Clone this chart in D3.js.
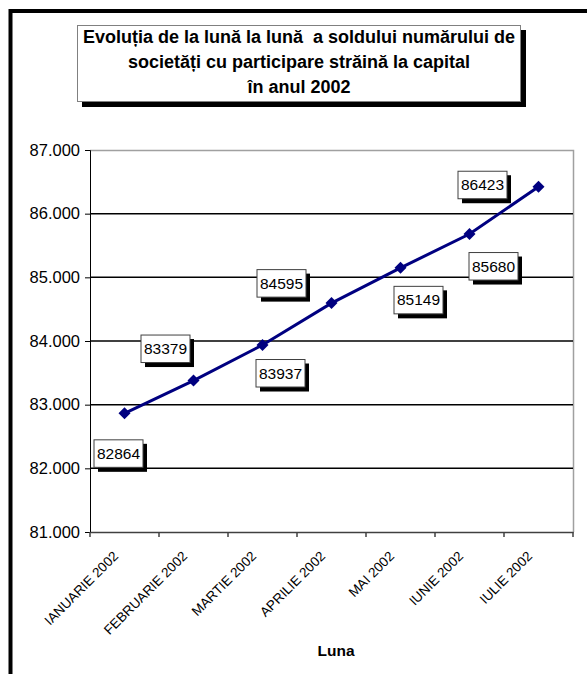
<!DOCTYPE html>
<html>
<head>
<meta charset="utf-8">
<title>Evoluția soldului numărului de societăți 2002</title>
<script src="https://cdn.jsdelivr.net/npm/d3@7"></script>
<style>
  body { margin: 0; background: #fff; }
  text { font-family: Arial, "Liberation Sans", sans-serif; }
</style>
</head>
<body>
<script>
  // data
  var months = ["IANUARIE 2002", "FEBRUARIE 2002", "MARTIE 2002", "APRILIE 2002",
                "MAI 2002", "IUNIE 2002", "IULIE 2002"];
  var values = [82864, 83379, 83937, 84595, 85149, 85680, 86423];
  var yTicks = [81000, 82000, 83000, 84000, 85000, 86000, 87000];
  var titleLines = ["Evoluția de la lună la lună  a soldului numărului de",
                    "societăți cu participare străină la capital",
                    "în anul 2002"];

  // label box offsets from each point (hand placed, like the original)
  var labelOffsets = [[-6, 40], [-28, -32], [18, 28], [-50, -20], [18, 32], [24, 32], [-56, -2]];

  var width = 587, height = 674;
  var plot = {left: 90, top: 150, right: 573, bottom: 532};

  var svg = d3.select("body").append("svg")
    .attr("width", width)
    .attr("height", height);

  // outer frame (runs off the right and bottom)
  svg.append("rect")
    .attr("x", 10.5).attr("y", 11)
    .attr("width", 620).attr("height", 700)
    .attr("fill", "#fff")
    .attr("stroke", "#000")
    .attr("stroke-width", 4);

  // title box with shadow
  svg.append("rect")
    .attr("x", 82).attr("y", 30).attr("width", 444).attr("height", 77)
    .attr("fill", "#000");
  svg.append("rect")
    .attr("x", 77.5).attr("y", 25.5).attr("width", 443).attr("height", 76)
    .attr("fill", "#fff").attr("stroke", "#808080").attr("stroke-width", 1);
  svg.append("g").selectAll("text")
    .data(titleLines)
    .enter().append("text")
    .attr("x", 299)
    .attr("y", function(d, i) { return 43 + i * 25; })
    .attr("text-anchor", "middle")
    .attr("font-weight", "bold")
    .attr("font-size", "18px")
    .attr("fill", "#000")
    .style("white-space", "pre")
    .text(function(d) { return d; });

  var x = d3.scaleBand().domain(months).range([plot.left, plot.right]);
  var y = d3.scaleLinear().domain([81000, 87000]).range([plot.bottom, plot.top]);

  // plot area border (grey top + right)
  svg.append("path")
    .attr("d", "M" + plot.left + "," + (plot.top + 0.5) + "H" + (plot.right + 0.5) + "V" + plot.bottom)
    .attr("fill", "none")
    .attr("stroke", "#a0a0a0")
    .attr("stroke-width", 1.5);

  // gridlines
  svg.append("g").selectAll("line")
    .data(yTicks.filter(function(t) { return t > 81000 && t < 87000; }))
    .enter().append("line")
    .attr("x1", plot.left).attr("x2", plot.right)
    .attr("y1", function(d) { return y(d); })
    .attr("y2", function(d) { return y(d); })
    .attr("stroke", "#000")
    .attr("stroke-width", 1.5);

  // y axis
  var yAxis = d3.axisLeft(y)
    .tickValues(yTicks)
    .tickSize(5)
    .tickPadding(5)
    .tickFormat(function(d) { return d3.format(",")(d).replace(",", "."); });
  var gy = svg.append("g")
    .attr("transform", "translate(" + plot.left + ",0)")
    .call(yAxis);
  gy.select(".domain").attr("stroke", "#000");
  gy.selectAll("text").attr("font-size", "16.5px").attr("fill", "#000")
    .style("font-family", "Arial, 'Liberation Sans', sans-serif");

  // x axis
  var xAxis = d3.axisBottom(x).tickSize(0).tickFormat("");
  var gx = svg.append("g")
    .attr("transform", "translate(0," + plot.bottom + ")")
    .call(xAxis);
  gx.select(".domain").attr("stroke", "#404040").attr("stroke-width", 1.5);
  gx.selectAll(".tick").remove();
  // ticks at category boundaries
  var bounds = months.map(function(m) { return x(m); }).concat([plot.right]);
  gx.selectAll("line.bt")
    .data(bounds)
    .enter().append("line")
    .attr("class", "bt")
    .attr("x1", function(d) { return d; }).attr("x2", function(d) { return d; })
    .attr("y1", 0).attr("y2", 5)
    .attr("stroke", "#404040").attr("stroke-width", 1.5);

  gx.selectAll("text.lab")
    .data(months)
    .enter().append("text")
    .attr("class", "lab")
    .attr("text-anchor", "end")
    .attr("font-size", "13.5px")
    .attr("fill", "#000")
    .attr("transform", function(d) {
      return "translate(" + (x(d) + x.bandwidth() / 2 - 5.5) + ",25) rotate(-45)";
    })
    .text(function(d) { return d; });

  svg.append("text")
    .attr("x", 336).attr("y", 656)
    .attr("text-anchor", "middle")
    .attr("font-weight", "bold")
    .attr("font-size", "15.5px")
    .attr("fill", "#000")
    .text("Luna");

  // series line
  var cx = function(i) { return x(months[i]) + x.bandwidth() / 2; };
  var line = d3.line()
    .x(function(d, i) { return cx(i); })
    .y(function(d) { return y(d); });
  svg.append("path")
    .datum(values)
    .attr("d", line)
    .attr("fill", "none")
    .attr("stroke", "#000080")
    .attr("stroke-width", 3);

  svg.append("g").selectAll("path")
    .data(values)
    .enter().append("path")
    .attr("d", d3.symbol().type(d3.symbolSquare).size(72))
    .attr("transform", function(d, i) { return "translate(" + cx(i) + "," + y(d) + ") rotate(45)"; })
    .attr("fill", "#000080");

  // data labels
  var lab = svg.append("g").selectAll("g")
    .data(values)
    .enter().append("g")
    .attr("transform", function(d, i) {
      return "translate(" + (cx(i) + labelOffsets[i][0]) + "," + (y(d) + labelOffsets[i][1]) + ")";
    });
  lab.append("rect")
    .attr("x", -20.5).attr("y", -9.5).attr("width", 49).attr("height", 28)
    .attr("fill", "#000");
  lab.append("rect")
    .attr("x", -24.5).attr("y", -13.5).attr("width", 49).attr("height", 27.5)
    .attr("fill", "#fff").attr("stroke", "#404040").attr("stroke-width", 1);
  lab.append("text")
    .attr("y", 5.5)
    .attr("text-anchor", "middle")
    .attr("font-size", "15.5px")
    .attr("fill", "#000")
    .text(function(d) { return d; });
</script>
</body>
</html>
